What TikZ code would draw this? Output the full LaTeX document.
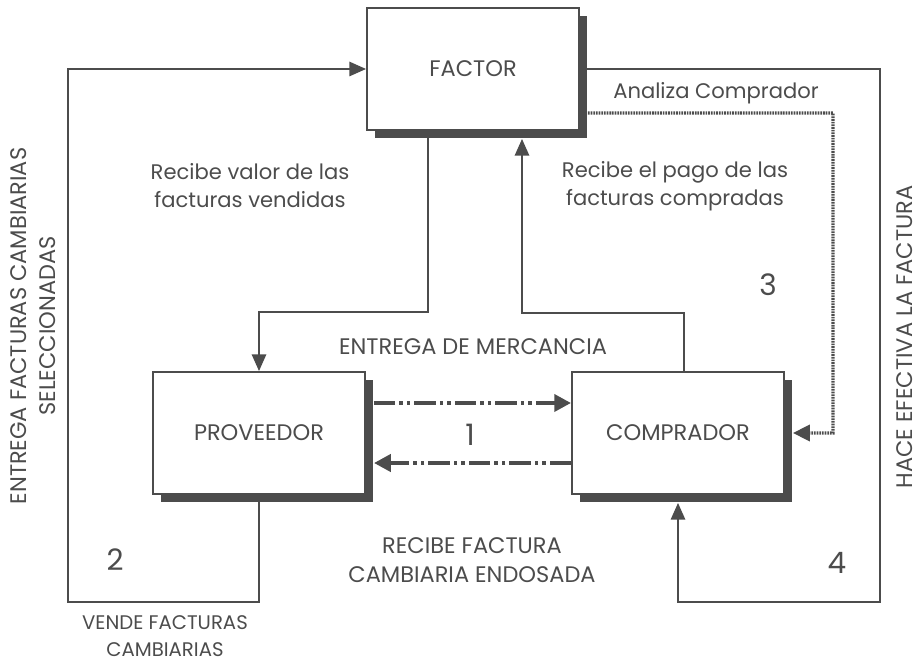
\documentclass[tikz,border=0pt]{standalone}
\usepackage{fontspec}
\setmainfont{Poppins}
\usetikzlibrary{arrows.meta,shadows}

\definecolor{ink}{gray}{0.3}

\begin{document}
\begin{tikzpicture}[x=0.025cm,y=-0.025cm,every node/.style={font=\fontsize{15}{20}\selectfont,text=ink}]
  \tikzset{
    box/.style={draw=ink,line width=1.3pt,fill=white,minimum width=5.3cm,minimum height=3.05cm,
      drop shadow={shadow xshift=0.2cm,shadow yshift=-0.2cm,opacity=1,fill=ink}},
    caps/.style={font=\fontsize{16}{21}\selectfont},
    flow/.style={draw=ink,line width=1.4pt,-{Triangle[length=0.42cm,width=0.36cm]}},
    dashdot/.style={draw=ink,line width=3.2pt,dash pattern=on 15pt off 3pt on 2.4pt off 3pt on 2.4pt off 3pt,
      -{Triangle[length=0.42cm,width=0.42cm]}},
    dotflow/.style={draw=ink,line width=2.4pt,dash pattern=on 1.2pt off 0.7pt,
      -{Triangle[length=0.42cm,width=0.4cm]}},
    num/.style={font=\fontsize{21}{24}\selectfont}
  }
  \useasboundingbox (0,0) rectangle (919,661);

  % the three parties
  \node[box,caps] (factor) at (473,69) {FACTOR};
  \node[box,caps] (prov) at (259,433) {PROVEEDOR};
  \node[box,caps] (comp) at (678,433) {COMPRADOR};

  % bends of the connectors
  \coordinate (j1) at (428,312);
  \coordinate (j2) at (684,313);
  \coordinate (j3) at (522,313);
  \coordinate (j4) at (833,113);
  \coordinate (j5) at (68,602);
  \coordinate (j6) at (880,602);

  \draw[flow] (factor.south -| j1) -- (j1) -| (prov.north);
  \draw[flow,shorten >=0.2cm] (comp.north -| j2) -- (j2) -- (j3) -- (factor.south -| j3);
  \draw[dashdot,shorten <=0.2cm] ([yshift=0.75cm]prov.east) -- ([yshift=0.75cm]prov.east -| comp.west);
  \draw[dashdot,shorten >=0.2cm] ([yshift=-0.75cm]comp.west) -- ([yshift=-0.75cm]comp.west -| prov.east);
  \draw[dotflow,shorten <=0.2cm,shorten >=0.2cm] ([yshift=-1.1cm]factor.east) -- (j4) |- (comp.east);
  \draw[flow] (prov.south) -- (prov.south |- j5) -- (j5) |- (factor.west);
  \draw[flow,shorten >=0.2cm] (factor.east) -| (j6) -| (comp.south);

  % labels
  \node (analiza) at (716,93) {Analiza Comprador};
  \node[align=center] (valor) at (250,186) {Recibe valor de las\\facturas vendidas};
  \node[align=center] (pago) at (675,186) {Recibe el pago de las\\facturas compradas};
  \node[caps] (entrega) at (473,347) {ENTREGA DE MERCANCIA};
  \node[caps,align=center] (recibe) at (472,560) {RECIBE FACTURA\\CAMBIARIA ENDOSADA};
  \node[align=center,font=\fontsize{14}{19}\selectfont] (vende) at (165,636) {VENDE FACTURAS\\CAMBIARIAS};
  \node[caps,rotate=90] (hace) at (905,337) {HACE EFECTIVA LA FACTURA};
  \node[caps,rotate=90,align=center] (selec) at (33,326) {ENTREGA FACTURAS CAMBIARIAS\\SELECCIONADAS};
  \node[num] (n1) at (470,435) {1};
  \node[num] (n2) at (115,560) {2};
  \node[num] (n3) at (768,285) {3};
  \node[num] (n4) at (837,563) {4};
\end{tikzpicture}
\end{document}
